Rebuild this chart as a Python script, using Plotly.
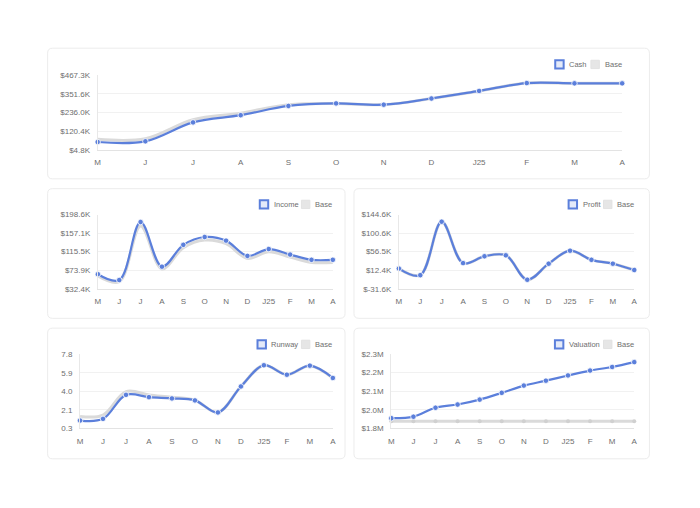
import plotly.graph_objects as go

W, H = 700, 508
months = ["M", "J", "J", "A", "S", "O", "N", "D", "J25", "F", "M", "A"]

cash = [53.5, 57.7, 175.0, 219.6, 276.8, 292.7, 284.8, 323.0, 370.0, 418.6, 416.8, 416.8]
cash_base = [70.0, 73.6, 191.6, 231.8, 284.7, 292.7, 284.8, 323.0, 370.0, 418.6, 416.8, 416.8]

income = [65.2, 52.1, 181.8, 82.0, 130.8, 148.3, 140.2, 106.1, 121.4, 109.0, 97.3, 97.3]
income_base = [61.0, 48.5, 173.0, 77.0, 124.5, 141.5, 133.5, 100.5, 115.5, 103.5, 91.5, 91.5]

profit = [16.4, 0.9, 127.6, 29.4, 45.6, 47.9, -10.0, 28.0, 58.8, 37.2, 28.0, 13.1]
profit_base = [16.4, 0.9, 127.6, 29.4, 45.6, 47.9, -10.0, 28.0, 58.8, 37.2, 28.0, 13.1]

runway = [1.04, 1.21, 3.64, 3.41, 3.28, 3.08, 1.86, 4.49, 6.64, 5.68, 6.60, 5.35]
runway_base = [1.46, 1.60, 3.97, 3.64, 3.40, 3.10, 1.86, 4.49, 6.64, 5.68, 6.60, 5.35]

valuation = [1.900, 1.909, 1.962, 1.981, 2.010, 2.050, 2.093, 2.122, 2.153, 2.182, 2.203, 2.232]
valuation_base = [1.882] * 12

BLUE = "#5b7fdb"
GRAY = "#dadada"
TXT = "#6e6e6e"
FONT = "Liberation Sans, Arial, sans-serif"

panels = [
    dict(name="Cash", v=cash, b=cash_base, px=(95.5, 624.5, 72.5, 148.5),
         rng=[4.8, 467.3], tv=[4.8, 120.4, 236.0, 351.6, 467.3],
         tt=["$4.8K", "$120.4K", "$236.0K", "$351.6K", "$467.3K"],
         card=(45, 652, 45, 178), leg=(557, 593, 61.5), bmark=0),
    dict(name="Income", v=income, b=income_base, px=(95.7, 332.7, 214.3, 290.0),
         rng=[32.4, 198.6], tv=[32.4, 73.9, 115.5, 157.1, 198.6],
         tt=["$32.4K", "$73.9K", "$115.5K", "$157.1K", "$198.6K"],
         card=(45, 345, 188, 320), leg=(259, 301, 204), bmark=0),
    dict(name="Profit", v=profit, b=profit_base, px=(399.3, 636.7, 214.3, 290.0),
         rng=[-31.6, 144.6], tv=[-31.6, 12.4, 56.5, 100.6, 144.6],
         tt=["$-31.6K", "$12.4K", "$56.5K", "$100.6K", "$144.6K"],
         card=(354, 652, 188, 320), leg=(570.5, 605.7, 204), bmark=0),
    dict(name="Runway", v=runway, b=runway_base, px=(77.7, 332.7, 356.6, 432.0),
         rng=[0.25, 7.75], tv=[0.25, 2.125, 4.0, 5.875, 7.75],
         tt=["0.3", "2.1", "4.0", "5.9", "7.8"],
         card=(45, 345, 330, 463), leg=(256.7, 301, 346.5), bmark=0),
    dict(name="Valuation", v=valuation, b=valuation_base, px=(391.7, 636.7, 356.3, 432.0),
         rng=[1.84, 2.28], tv=[1.84, 1.95, 2.06, 2.17, 2.28],
         tt=["$1.8M", "$2.0M", "$2.1M", "$2.2M", "$2.3M"],
         card=(354, 652, 330, 463), leg=(556.7, 605.7, 346.5), bmark=4),
]

fig = go.Figure()
shapes = []
annotations = []


def rrect(x0, y0, x1, y1, r):
    def P(x, y):
        return f"{x / W:.5f},{1 - y / H:.5f}"
    return (f"M {P(x0 + r, y0)} L {P(x1 - r, y0)} Q {P(x1, y0)} {P(x1, y0 + r)} "
            f"L {P(x1, y1 - r)} Q {P(x1, y1)} {P(x1 - r, y1)} L {P(x0 + r, y1)} "
            f"Q {P(x0, y1)} {P(x0, y1 - r)} L {P(x0, y0 + r)} Q {P(x0, y0)} {P(x0 + r, y0)} Z")


xs = list(range(12))
for i, p in enumerate(panels):
    k = "" if i == 0 else str(i + 1)
    xa, ya = "x" + k, "y" + k
    x0, x1, y0, y1 = p["px"]
    c = p["card"]
    shapes.append(dict(type="path", path=rrect(c[0], c[2], c[1], c[3], 5), xref="paper", yref="paper",
                       line=dict(color="#ececec", width=1), fillcolor="white", layer="below"))
    fig.add_trace(go.Scatter(
        x=xs, y=p["b"], xaxis=xa, yaxis=ya, mode="lines+markers" if p["bmark"] else "lines",
        line=dict(color=GRAY, width=3, shape="spline", smoothing=1.0),
        marker=dict(size=p["bmark"], color="#d0d0d0"), cliponaxis=False,
        showlegend=False, hoverinfo="skip"))
    fig.add_trace(go.Scatter(
        x=xs, y=p["v"], xaxis=xa, yaxis=ya, mode="lines+markers",
        line=dict(color=BLUE, width=2.2, shape="spline", smoothing=1.0),
        marker=dict(size=5.5, color=BLUE, line=dict(color="white", width=0.8)),
        cliponaxis=False, showlegend=False, name=p["name"]))
    fig.layout["xaxis" + k] = dict(
        domain=[x0 / W, x1 / W], anchor=ya, range=[0, 11], tickvals=xs, ticktext=months,
        showgrid=False, zeroline=False, showline=True, linecolor="#e3e3e3", linewidth=1,
        ticks="", ticklabelstandoff=5, tickfont=dict(size=8, color=TXT, family=FONT), fixedrange=True)
    fig.layout["yaxis" + k] = dict(
        domain=[1 - y1 / H, 1 - y0 / H], anchor=xa, range=p["rng"], tickvals=p["tv"], ticktext=p["tt"],
        showgrid=True, gridcolor="#f1f1f1", gridwidth=1, zeroline=False, showline=True,
        linecolor="#e8e8e8", linewidth=1, ticks="", ticklabelstandoff=5,
        tickfont=dict(size=8, color=TXT, family=FONT), fixedrange=True)
    bx, gx, ly = p["leg"]
    s = 8.5
    shapes.append(dict(type="rect", xref="paper", yref="paper",
                       x0=bx / W, x1=(bx + s) / W, y0=1 - (ly + s / 2) / H, y1=1 - (ly - s / 2) / H,
                       line=dict(color=BLUE, width=2), fillcolor="#e4eaf9"))
    shapes.append(dict(type="rect", xref="paper", yref="paper",
                       x0=gx / W, x1=(gx + s) / W, y0=1 - (ly + s / 2) / H, y1=1 - (ly - s / 2) / H,
                       line=dict(color="#e2e2e2", width=1), fillcolor="#e6e6e6"))
    annotations.append(dict(text=p["name"], xref="paper", yref="paper", x=(bx + s + 3.5) / W,
                            y=1 - ly / H, xanchor="left", yanchor="middle", showarrow=False,
                            font=dict(size=7.5, color=TXT, family=FONT)))
    annotations.append(dict(text="Base", xref="paper", yref="paper", x=(gx + s + 3.5) / W,
                            y=1 - ly / H, xanchor="left", yanchor="middle", showarrow=False,
                            font=dict(size=7.5, color=TXT, family=FONT)))

fig.update_layout(width=W, height=H, margin=dict(l=0, r=0, t=0, b=0),
                  paper_bgcolor="white", plot_bgcolor="rgba(0,0,0,0)",
                  shapes=shapes, annotations=annotations, showlegend=False,
                  font=dict(family=FONT))
fig.write_html("out.html", config={"displayModeBar": False},
               post_script="document.body.style.margin='0';document.body.style.overflow='hidden';"
                           "document.documentElement.style.overflow='hidden';")
